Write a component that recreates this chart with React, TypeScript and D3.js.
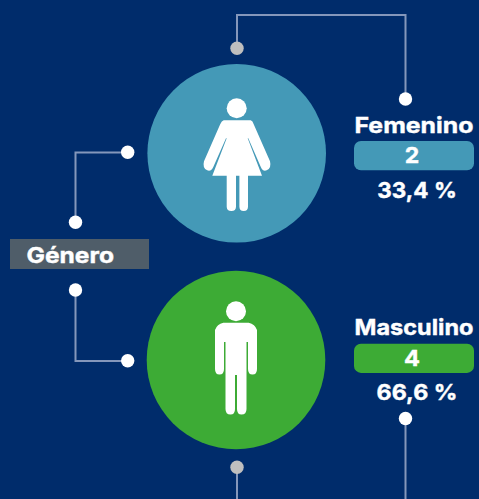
import React, { useRef, useEffect } from 'react';
import * as d3 from 'd3';

// Values
const categories = ['Femenino', 'Masculino'];
const counts = [2, 4];
const percents = ['33,4 %', '66,6 %'];
const groupLabel = 'Género';

const colors = ['#4499b7', '#3dab35'];
const BG = '#002c6b';
const LINE = '#8497bb';
const GREY_DOT = '#bfbfbf';
const FONT = 'Inter, "Open Sans", sans-serif';

const WIDTH = 479;
const HEIGHT = 499;

function womanPath() {
  // drawn around the circle centre
  const p = d3.path();
  p.moveTo(-13, -33);
  p.lineTo(14, -33);
  p.quadraticCurveTo(16, -32.5, 17, -29);
  p.lineTo(33.3, 8);
  p.quadraticCurveTo(35, 15, 30, 17);
  p.quadraticCurveTo(26, 18.5, 24, 13.4);
  p.lineTo(11.6, -15);
  p.lineTo(11, -15);
  p.lineTo(25.3, 22.4);
  p.lineTo(11.3, 22.4);
  p.lineTo(11.3, 53.5);
  p.quadraticCurveTo(11.3, 57.7, 7, 57.7);
  p.quadraticCurveTo(2.7, 57.7, 2.7, 53.5);
  p.lineTo(2.7, 22.4);
  p.lineTo(-0.7, 22.4);
  p.lineTo(-0.7, 53.5);
  p.quadraticCurveTo(-0.7, 57.7, -5.3, 57.7);
  p.quadraticCurveTo(-10, 57.7, -10, 53.5);
  p.lineTo(-10, 22.4);
  p.lineTo(-24.4, 22.4);
  p.lineTo(-10, -15);
  p.lineTo(-10.7, -15);
  p.lineTo(-23.3, 13.4);
  p.quadraticCurveTo(-25.5, 18.5, -29.5, 17);
  p.quadraticCurveTo(-34.5, 15, -32.7, 8);
  p.lineTo(-16.5, -29);
  p.quadraticCurveTo(-15, -32.5, -13, -33);
  p.closePath();
  return p.toString();
}

function manPath() {
  const p = d3.path();
  p.moveTo(-12.7, -37.3);
  p.lineTo(12.7, -37.3);
  p.quadraticCurveTo(19, -36, 21, -30);
  p.lineTo(21, 9);
  p.quadraticCurveTo(21, 14.5, 16.5, 14.5);
  p.quadraticCurveTo(12, 14.5, 12, 9);
  p.lineTo(12, -18);
  p.lineTo(10.5, -18);
  p.lineTo(10.5, 49);
  p.quadraticCurveTo(10.5, 54.5, 5.5, 54.5);
  p.quadraticCurveTo(1, 54.5, 1, 49);
  p.lineTo(1, 15);
  p.lineTo(-1, 15);
  p.lineTo(-1, 49);
  p.quadraticCurveTo(-1, 54.5, -5.5, 54.5);
  p.quadraticCurveTo(-10.5, 54.5, -10.5, 49);
  p.lineTo(-10.5, -18);
  p.lineTo(-12, -18);
  p.lineTo(-12, 9);
  p.quadraticCurveTo(-12, 14.5, -16.5, 14.5);
  p.quadraticCurveTo(-21, 14.5, -21, 9);
  p.lineTo(-21, -30);
  p.quadraticCurveTo(-19, -36, -12.7, -37.3);
  p.closePath();
  return p.toString();
}

export default function App() {
  const svgRef = useRef<SVGSVGElement>(null);

  useEffect(() => {
    if (!svgRef.current) return;
    const svg = d3.select(svgRef.current);
    svg.selectAll('*').remove();

    const yScale = d3.scalePoint<string>().domain(categories).range([153.3, 360]);
    const xScale = d3.scalePoint<string>().domain(categories).range([236.7, 236]);
    // label blocks sit a little tighter than the circles
    const labelY = d3.scalePoint<string>().domain(categories).range([153.3, 356]);
    const radius = 89.3;

    svg.append('rect').attr('width', WIDTH).attr('height', HEIGHT).attr('fill', BG);

    // Connectors
    const line = d3.line();
    const connectors: [number, number][][] = [
      [[237, 48], [237, 15], [405.5, 15], [405.5, 99]],
      [[237, 467], [237, 499]],
      [[405.5, 418], [405.5, 499]],
      [[75.5, 222], [75.5, 152.5], [127.5, 152.5]],
      [[75.5, 290], [75.5, 361], [127.5, 361]],
    ];
    connectors.forEach(c => {
      svg.append('path')
        .attr('d', line(c))
        .attr('fill', 'none')
        .attr('stroke', LINE)
        .attr('stroke-width', 2);
    });

    const dots: [number, number, string][] = [
      [237, 48.3, GREY_DOT],
      [237, 467.3, GREY_DOT],
      [405.5, 99, '#fff'],
      [405.5, 418.5, '#fff'],
      [75.5, 222.3, '#fff'],
      [75.5, 290, '#fff'],
      [127.7, 152.3, '#fff'],
      [127.7, 360.7, '#fff'],
    ];
    dots.forEach(([x, y, fill]) => {
      svg.append('circle').attr('cx', x).attr('cy', y).attr('r', 6.7).attr('fill', fill);
    });

    // Género label
    svg.append('rect')
      .attr('x', 10).attr('y', 239)
      .attr('width', 139).attr('height', 30)
      .attr('fill', '#4f5d69');
    svg.append('text')
      .attr('x', 26.5).attr('y', 262.7)
      .attr('fill', '#fff')
      .attr('stroke', '#fff')
      .attr('stroke-width', 0.4)
      .attr('font-family', FONT)
      .attr('font-weight', 700)
      .attr('font-size', 22)
      .attr('textLength', 87.5)
      .attr('lengthAdjust', 'spacingAndGlyphs')
      .text(groupLabel);

    // Circles, icons, labels
    const icons = [womanPath(), manPath()];
    const headOffset = [-45, -48.7];
    const percentWidths = [79.5, 81];
    const countWidths = [14.5, 16];

    categories.forEach((cat, i) => {
      const cy = yScale(cat) as number;
      const cx = xScale(cat) as number;
      const ly = labelY(cat) as number;

      svg.append('circle').attr('cx', cx).attr('cy', cy).attr('r', radius).attr('fill', colors[i]);

      const icon = svg.append('g').attr('transform', `translate(${cx}, ${cy})`);
      icon.append('circle').attr('cy', headOffset[i]).attr('r', 10).attr('fill', '#fff');
      icon.append('path').attr('d', icons[i]).attr('fill', '#fff');

      svg.append('rect')
        .attr('x', 354).attr('y', ly - 12.3)
        .attr('width', 120).attr('height', 29.2)
        .attr('rx', 7)
        .attr('fill', colors[i]);

      const g = svg.append('g')
        .attr('font-family', FONT)
        .attr('font-weight', 700)
        .attr('fill', '#fff')
        .attr('stroke', '#fff')
        .attr('stroke-width', 0.4);

      g.append('text')
        .attr('x', 354.5).attr('y', ly - 20.6)
        .attr('font-size', 22)
        .attr('textLength', 119)
        .attr('lengthAdjust', 'spacingAndGlyphs')
        .text(cat);

      g.append('text')
        .attr('x', 412).attr('y', ly + 10)
        .attr('text-anchor', 'middle')
        .attr('font-size', 22)
        .attr('textLength', countWidths[i])
        .attr('lengthAdjust', 'spacingAndGlyphs')
        .text(counts[i]);

      g.append('text')
        .attr('x', 417).attr('y', ly + 44.4)
        .attr('text-anchor', 'middle')
        .attr('font-size', 22)
        .attr('textLength', percentWidths[i])
        .attr('lengthAdjust', 'spacingAndGlyphs')
        .text(percents[i]);
    });
  }, []);

  return (
    <svg
      ref={svgRef}
      width={WIDTH}
      height={HEIGHT}
      style={{ position: 'absolute', top: 0, left: 0, display: 'block' }}
    />
  );
}
